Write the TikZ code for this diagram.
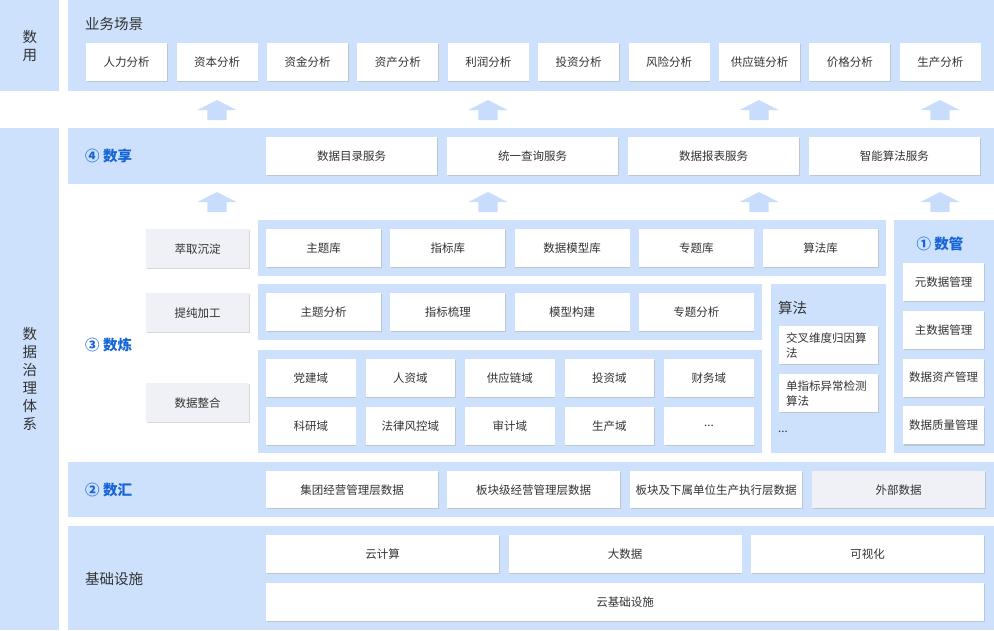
\documentclass[tikz,border=0pt]{standalone}
\usepackage{fontspec}
\setmainfont{Noto Sans CJK SC}
\usetikzlibrary{shadows}
\definecolor{pane}{HTML}{CDE1FC}
\definecolor{arw}{HTML}{C8DDFB}
\definecolor{greybox}{HTML}{F0F1F6}
\definecolor{ink}{HTML}{333333}
\definecolor{lab}{HTML}{1565D8}
\newcommand\etcdots{...}
\begin{document}
\begin{tikzpicture}[x=1pt,y=-1pt,font=\fontsize{11.5}{15}\selectfont,text=ink,
 box/.style={fill=white,anchor=north west,inner sep=0pt,minimum height=38pt,general shadow={fill=black!35,opacity=.45,shadow xshift=.6pt,shadow yshift=-1.2pt}},
 gbox/.style={box,fill=greybox},
 ttl/.style={anchor=west,inner sep=0pt,font=\fontsize{14.5}{16}\selectfont},
 num/.style={ttl,text=lab,font=\fontsize{14.5}{16}\selectfont\bfseries}]
\useasboundingbox (0,0) rectangle (994,630);
\fill[pane] (0,0) rectangle (59,91);\fill[pane] (68,0) rectangle (994,91);
\fill[pane] (0,128) rectangle (59,630);\fill[pane] (68,128) rectangle (994,184);
\fill[pane] (258,220) rectangle (886,276);\fill[pane] (894,220) rectangle (994,453);
\fill[pane] (258,284) rectangle (762,340);\fill[pane] (258,350) rectangle (762,453);
\fill[pane] (771,284) rectangle (886,453);
\fill[pane] (68,462) rectangle (994,517);\fill[pane] (68,526) rectangle (994,630);
\foreach \y in {100,192}{\foreach \c in {217,488,759,940}
 \fill[arw] (\c-19.5,\y+10)--(\c,\y)--(\c+19.5,\y+10)--(\c+9.7,\y+10)--(\c+9.7,\y+20)--(\c-9.7,\y+20)--(\c-9.7,\y+10)--cycle;}
\node[align=center,font=\fontsize{14.5}{18}\selectfont] (yong) at (30,46) {数\\用};
\node[align=center,font=\fontsize{14.5}{18}\selectfont] (zhili) at (30,379) {数\\据\\治\\理\\体\\系};
\node[ttl] (scene) at (85,24) {业务场景};
\node[num] (share) at (85,156) {④ 数享};
\node[num] (refine) at (85,345) {③ 数炼};
\node[num] (gather) at (85,490) {② 数汇};
\node[ttl] (infra) at (85,579) {基础设施};
\node[num,anchor=center] (manage) at (940,244) {① 数管};
\node[ttl] (algo) at (778,308) {算法};
\node[anchor=west,inner sep=0pt] (more) at (778,432) {\etcdots};
\foreach \t [count=\i from 0] in {人力分析,资本分析,资金分析,资产分析,利润分析,投资分析,风险分析,供应链分析,价格分析,生产分析}
 \node[box,minimum width=81pt] (use\i) at (86+90.4*\i,43) {\t};
\foreach \t [count=\i from 0] in {数据目录服务,统一查询服务,数据报表服务,智能算法服务}
 \node[box,minimum width=171pt] (srv\i) at (266+180.9*\i,137) {\t};
\foreach \t [count=\i from 0] in {主题库,指标库,数据模型库,专题库,算法库}
 \node[box,minimum width=115pt] (lib\i) at (266+124.2*\i,229) {\t};
\foreach \t [count=\i from 0] in {主题分析,指标梳理,模型构建,专题分析}
 \node[box,minimum width=115pt] (proc\i) at (266+124.2*\i,293) {\t};
\foreach \t [count=\i from 0] in {党建域,人资域,供应链域,投资域,财务域}
 \node[box,minimum width=89.5pt] (dom\i) at (266+99.5*\i,359) {\t};
\foreach \t [count=\i from 0] in {科研域,法律风控域,审计域,生产域,\etcdots}
 \node[box,minimum width=89.5pt] (domb\i) at (266+99.5*\i,407) {\t};
\foreach \t/\y [count=\i from 0] in {萃取沉淀/229,提纯加工/293,数据整合/383}
 \node[gbox,minimum width=103pt,minimum height=39pt] (stage\i) at (146,\y) {\t};
\foreach \t [count=\i from 0] in {元数据管理,主数据管理,数据资产管理,数据质量管理}
 \node[box,minimum width=81pt] (mgr\i) at (903,263+47.7*\i) {\t};
\node[box,minimum width=99pt,text width=85pt,align=left] (alg0) at (779,326) {交叉维度归因算\\法};
\node[box,minimum width=99pt,text width=85pt,align=left] (alg1) at (779,374) {单指标异常检测\\算法};
\foreach \t/\x/\w [count=\i from 0] in {集团经营管理层数据/266/172,板块级经营管理层数据/447/173,板块及下属单位生产执行层数据/630/172}
 \node[box,minimum width=\w pt,minimum height=37pt] (src\i) at (\x,471) {\t};
\node[gbox,minimum width=173pt,minimum height=37pt] (src3) at (812,471) {外部数据};
\foreach \t [count=\i from 0] in {云计算,大数据,可视化}
 \node[box,minimum width=233pt] (base\i) at (266+242.5*\i,535) {\t};
\node[box,minimum width=718pt] (cloud) at (266,583) {云基础设施};
\end{tikzpicture}
\end{document}
